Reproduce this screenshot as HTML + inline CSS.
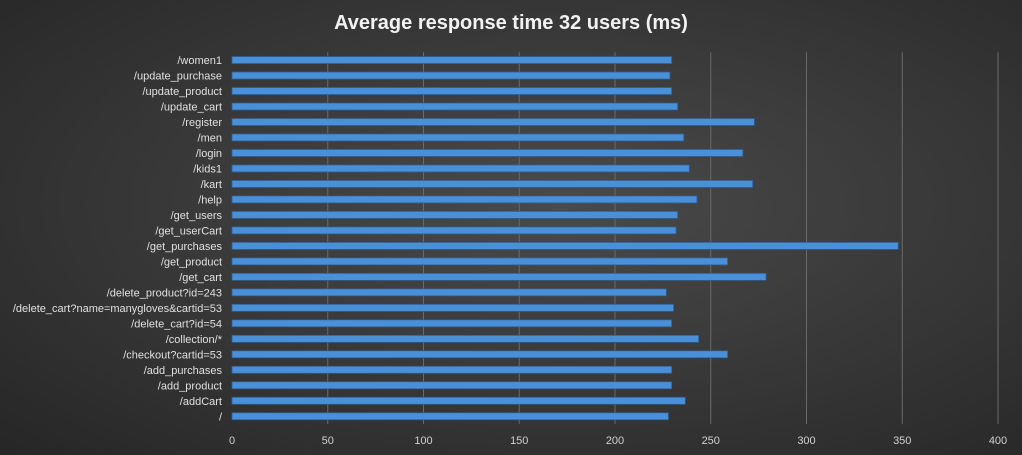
<!DOCTYPE html>
<html><head><meta charset="utf-8"><style>
html,body{margin:0;padding:0;width:1022px;height:455px;overflow:hidden}
body{background:radial-gradient(ellipse at 55% 45%,#4a4a4a 0%,#3a3a3a 45%,#262626 100%);font-family:"Liberation Sans",sans-serif}
</style></head><body>
<svg id="chart" width="1022" height="455" xmlns="http://www.w3.org/2000/svg">
<text x="511" y="29" text-anchor="middle" fill="#f2f2f2" font-size="20" font-weight="bold" font-family="Liberation Sans, sans-serif">Average response time 32 users (ms)</text>
<g id="grid"></g><g id="bars"></g><g id="labels"></g><g id="ticks"></g>
</svg>
<script>
const categories=["/women1","/update_purchase","/update_product","/update_cart","/register","/men","/login","/kids1","/kart","/help","/get_users","/get_userCart","/get_purchases","/get_product","/get_cart","/delete_product?id=243","/delete_cart?name=manygloves&cartid=53","/delete_cart?id=54","/collection/*","/checkout?cartid=53","/add_purchases","/add_product","/addCart","/"];
const values=[229.6,228.7,229.6,232.7,272.8,235.9,266.8,238.8,271.9,242.8,232.7,231.9,347.9,258.8,278.9,226.8,230.6,229.6,243.7,258.8,229.6,229.6,236.7,227.9];
const ticks=[0,50,100,150,200,250,300,350,400];
const NS="http://www.w3.org/2000/svg";
const x0=232,kx=1.915,yTop=52.3,yBot=424;
const band=(yBot-yTop)/categories.length;
const xs=v=>x0+v*kx;
const yc=i=>yTop+band*(i+0.5);
function mk(t,a,p){const e=document.createElementNS(NS,t);for(const k in a)e.setAttribute(k,a[k]);p.appendChild(e);return e;}
const G=document.getElementById('grid'),B=document.getElementById('bars'),L=document.getElementById('labels'),T=document.getElementById('ticks');
ticks.forEach(t=>{
 if(t>0){const l=mk('line',{x1:xs(t),x2:xs(t),y1:yTop,y2:yBot,stroke:'#6a6a6a','stroke-width':1},G);
 
 }
 const tx=mk('text',{x:xs(t),y:444,'text-anchor':'middle',fill:'#d0d0d0','font-size':11},T);
 tx.textContent=t;
 
 
});
categories.forEach((c,i)=>{
 const y=yc(i);
 const r=mk('rect',{x:x0,y:y-3.5,width:xs(values[i])-x0,height:7,fill:'#4a90d9',stroke:'#2f5f92','stroke-width':0.8},B);
 
 
 const t=mk('text',{x:222,y:y+4,'text-anchor':'end',fill:'#e0e0e0','font-size':11},L);
 t.textContent=c;
 
 
});
</script>
</body></html>
